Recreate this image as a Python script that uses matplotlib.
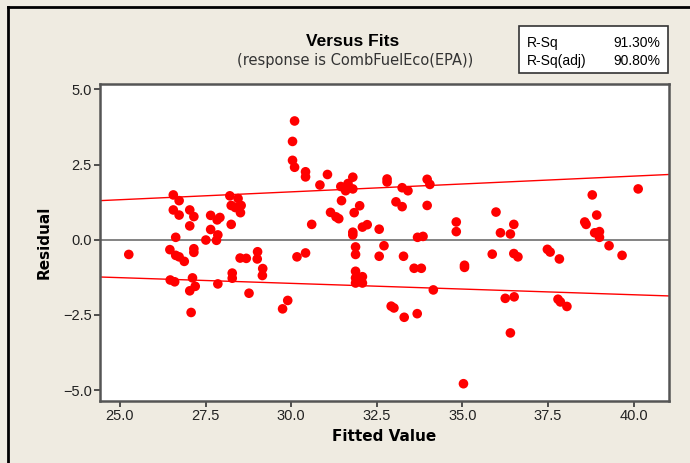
import matplotlib
matplotlib.use("Agg")
import matplotlib.pyplot as plt
from matplotlib.lines import Line2D
from matplotlib.patches import Rectangle

plt.rcParams['font.family'] = ['Liberation Sans', 'DejaVu Sans']

fitted = [25.26, 26.46, 26.47, 26.56, 26.56, 26.60, 26.63, 26.63, 26.73, 26.73,
          26.73, 26.88, 27.04, 27.04, 27.04, 27.08, 27.12, 27.16, 27.16, 27.16,
          27.20, 27.51, 27.65, 27.65, 27.82, 27.84, 27.86, 27.86, 27.92, 28.21,
          28.25, 28.25, 28.28, 28.28, 28.37, 28.45, 28.51, 28.52, 28.54, 28.69,
          28.77, 29.01, 29.02, 29.16, 29.17, 29.75, 29.90, 30.04, 30.04, 30.10,
          30.10, 30.17, 30.42, 30.42, 30.42, 30.60, 30.84, 31.06, 31.15, 31.31,
          31.39, 31.45, 31.47, 31.59, 31.66, 31.80, 31.80, 31.80, 31.80, 31.84,
          31.88, 31.88, 31.88, 31.88, 31.88, 32.00, 32.08, 32.08, 32.08, 32.22,
          32.57, 32.57, 32.71, 32.80, 32.80, 32.92, 33.00, 33.06, 33.24, 33.24,
          33.28, 33.30, 33.41, 33.59, 33.68, 33.69, 33.80, 33.85, 33.97, 33.97,
          34.05, 34.15, 34.82, 34.82, 35.03, 35.06, 35.06, 35.87, 35.98, 36.11,
          36.25, 36.40, 36.40, 36.50, 36.50, 36.51, 36.62, 37.48, 37.56, 37.79,
          37.83, 37.86, 38.05, 38.57, 38.61, 38.79, 38.86, 38.92, 39.00, 39.00,
          39.28, 39.66, 40.13]
residual = [-0.49, -0.33, -1.34, 1.49, 0.99, -1.40, 0.08, -0.52, 1.30, 0.82,
            -0.57, -0.72, 0.99, 0.46, -1.70, -2.42, -1.27, 0.77, -0.30, -0.42,
            -1.55, -0.01, 0.81, 0.34, -0.02, 0.66, 0.16, -1.47, 0.74, 1.46,
            1.14, 0.51, -1.11, -1.28, 1.07, 1.37, -0.61, 0.90, 1.14, -0.62,
            -1.78, -0.64, -0.40, -1.19, -0.96, -2.30, -2.02, 3.27, 2.64, 3.95,
            2.41, -0.57, 2.26, 2.09, -0.44, 0.51, 1.82, 2.17, 0.91, 0.76,
            0.70, 1.77, 1.30, 1.63, 1.87, 2.08, 1.69, 0.25, 0.16, 0.90,
            -0.24, -0.49, -1.05, -1.27, -1.44, 1.13, 0.42, -1.23, -1.44, 0.50,
            0.35, -0.55, -0.20, 2.02, 1.92, -2.21, -2.27, 1.26, 1.73, 1.10,
            -0.55, -2.58, 1.63, -0.95, -2.46, 0.08, -0.95, 0.11, 2.01, 1.14,
            1.84, -1.67, 0.59, 0.27, -4.79, -0.85, -0.92, -0.48, 0.92, 0.23,
            -1.95, 0.19, -3.10, 0.51, -0.46, -1.90, -0.57, -0.32, -0.41, -1.98,
            -0.64, -2.07, -2.22, 0.59, 0.51, 1.49, 0.23, 0.82, 0.27, 0.08,
            -0.20, -0.52, 1.69]

x_range = [24.42, 41.03]
upper_band = [1.30, 2.17]
lower_band = [-1.24, -1.87]

xticks = [25.0, 27.5, 30.0, 32.5, 35.0, 37.5, 40.0]
yticks = [-5.0, -2.5, 0.0, 2.5, 5.0]

rsq_labels = ["R-Sq", "R-Sq(adj)"]
rsq_values = ["91.30%", "90.80%"]

bg = '#EFEBE1'
fig = plt.figure(figsize=(6.9, 4.63), dpi=100, facecolor=bg)
ax = fig.add_axes([100/690, 1-400.7/463, (669-100)/690, (400.7-84)/463])
ax.set_facecolor('white')

ax.axhline(0, color='#7a7a7a', lw=1.3, zorder=1)
ax.plot(x_range, upper_band, color='#ff0000', lw=1.0, zorder=2)
ax.plot(x_range, lower_band, color='#ff0000', lw=1.0, zorder=2)
ax.scatter(fitted, residual, s=48, color='#ff0000', edgecolors='none', zorder=3)

ax.set_xlim(x_range)
ax.set_ylim(-5.355, 5.18)
ax.set_xticks(xticks)
ax.set_xticklabels([f"{t:.1f}" for t in xticks])
ax.set_yticks(yticks)
ax.set_yticklabels([f"{t:.1f}".replace('-', '\u2212') for t in yticks])
ax.tick_params(direction='out', length=4, width=1.2, color='#333333',
               labelsize=10.5, labelcolor='#222222', pad=2)
for sp in ax.spines.values():
    sp.set_color('#555555')
    sp.set_linewidth(1.8)

ax.set_xlabel("Fitted Value", fontsize=11, fontweight='bold', labelpad=4,
              family=['DejaVu Sans'])
ax.set_ylabel("Residual", fontsize=11, fontweight='bold', labelpad=8,
              family=['DejaVu Sans'])

fig.text(353/690, 1-42/463, "Versus Fits", ha='center', va='center',
         fontsize=12.5, fontweight='bold')
fig.text(355/690, 1-60/463, "(response is CombFuelEco(EPA))", ha='center',
         va='center', fontsize=10.5, color='#333333', family=['DejaVu Sans'])

fig.patches.append(Rectangle((519/690, 1-73/463), (668-519)/690, (73-26)/463,
                             transform=fig.transFigure, facecolor='white',
                             edgecolor='#333333', lw=1.2))
for i, (lab, val) in enumerate(zip(rsq_labels, rsq_values)):
    yy = 1 - (43 + 18*i)/463
    fig.text(527/690, yy, lab, ha='left', va='center', fontsize=10)
    fig.text(660/690, yy, val, ha='right', va='center', fontsize=10)

# window border (left and top)
fig.lines.append(Line2D([8/690, 8/690], [0, 1-7/463], transform=fig.transFigure,
                        color='black', lw=2))
fig.lines.append(Line2D([8/690, 1], [1-7/463, 1-7/463], transform=fig.transFigure,
                        color='black', lw=2))

fig.savefig("out.png", dpi=100, facecolor=bg)
